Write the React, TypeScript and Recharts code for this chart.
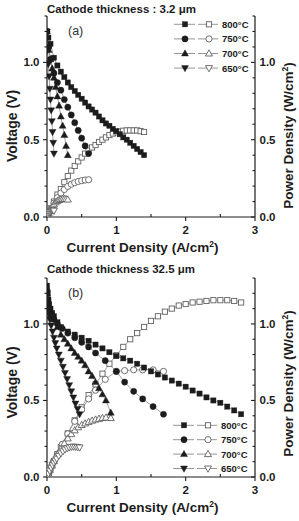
import React from 'react';
import { ComposedChart, Line, XAxis, YAxis, Legend, Label } from 'recharts';

// ---- shared labels / ticks ----
const TEMPS = ['800°C', '750°C', '700°C', '650°C'];
const X_TICKS = [0, 0.5, 1, 1.5, 2, 2.5, 3];
const Y_TICKS = [0, 0.1, 0.2, 0.3, 0.4, 0.5, 0.6, 0.7, 0.8, 0.9, 1.0, 1.1, 1.2, 1.3];
const TITLE_A = 'Cathode thickness : 3.2 \u03bcm';
const TITLE_B = 'Cathode thickness 32.5 \u03bcm';

// ---- panel (a): current density (A/cm2), voltage (V), power density (W/cm2) ----
const A800_I = [0, 0.02, 0.05, 0.1, 0.15, 0.2, 0.25, 0.3, 0.35, 0.4, 0.45, 0.5, 0.55, 0.6, 0.65, 0.7, 0.75, 0.8, 0.85, 0.9, 0.95, 1.0, 1.05, 1.1, 1.15, 1.2, 1.25, 1.3, 1.35, 1.4];
const A800_V = [1.2, 1.16, 1.12, 1.03, 0.98, 0.94, 0.905, 0.87, 0.84, 0.815, 0.79, 0.765, 0.74, 0.715, 0.695, 0.675, 0.65, 0.625, 0.605, 0.59, 0.57, 0.555, 0.535, 0.515, 0.5, 0.48, 0.46, 0.44, 0.42, 0.4];
const A800_P = [0, 0.023, 0.056, 0.1, 0.145, 0.18, 0.225, 0.265, 0.3, 0.33, 0.36, 0.385, 0.41, 0.43, 0.45, 0.465, 0.485, 0.5, 0.515, 0.53, 0.54, 0.548, 0.553, 0.558, 0.56, 0.56, 0.56, 0.56, 0.555, 0.55];

const A750_I = [0, 0.025, 0.05, 0.1, 0.15, 0.2, 0.25, 0.3, 0.35, 0.4, 0.45, 0.5, 0.55, 0.6];
const A750_V = [1.2, 1.1, 1.02, 0.93, 0.87, 0.82, 0.76, 0.71, 0.66, 0.61, 0.56, 0.51, 0.46, 0.41];
const A750_P = [0, 0.027, 0.05, 0.09, 0.125, 0.155, 0.178, 0.198, 0.212, 0.222, 0.23, 0.235, 0.239, 0.241];

const A700_I = [0, 0.025, 0.05, 0.075, 0.1, 0.125, 0.15, 0.175, 0.2, 0.225, 0.25, 0.275, 0.3];
const A700_V = [1.2, 1.08, 1.02, 0.96, 0.9, 0.84, 0.78, 0.72, 0.65, 0.59, 0.53, 0.46, 0.4];
const A700_P = [0, 0.025, 0.046, 0.066, 0.082, 0.095, 0.104, 0.11, 0.114, 0.116, 0.117, 0.116, 0.113];

const A650_I = [0, 0.01, 0.02, 0.03, 0.04, 0.05, 0.06, 0.07, 0.08, 0.09, 0.1];
const A650_V = [1.2, 1.08, 0.99, 0.91, 0.83, 0.76, 0.69, 0.62, 0.55, 0.48, 0.41];
const A650_P = [0, 0.011, 0.02, 0.027, 0.033, 0.038, 0.041, 0.043, 0.044, 0.043, 0.041];

// ---- panel (b) ----
const B800_I = [0, 0.01, 0.02, 0.03, 0.05, 0.075, 0.1, 0.15, 0.2, 0.3, 0.4, 0.5, 0.6, 0.7, 0.8, 0.9, 1.0, 1.1, 1.2, 1.3, 1.4, 1.5, 1.6, 1.7, 1.8, 1.9, 2.0, 2.1, 2.2, 2.3, 2.4, 2.5, 2.6, 2.7, 2.8];
const B800_V = [1.25, 1.2, 1.16, 1.13, 1.1, 1.07, 1.05, 1.01, 0.98, 0.95, 0.93, 0.91, 0.89, 0.865, 0.84, 0.815, 0.79, 0.775, 0.76, 0.74, 0.715, 0.69, 0.67, 0.65, 0.63, 0.61, 0.59, 0.565, 0.545, 0.52, 0.5, 0.485, 0.46, 0.435, 0.41];
const B800_P = [0, 0.012, 0.023, 0.034, 0.055, 0.08, 0.105, 0.15, 0.195, 0.285, 0.37, 0.455, 0.535, 0.605, 0.675, 0.74, 0.795, 0.85, 0.9, 0.94, 0.98, 1.02, 1.05, 1.08, 1.1, 1.12, 1.13, 1.14, 1.145, 1.15, 1.155, 1.155, 1.155, 1.15, 1.14];

const B750_I = [0, 0.01, 0.02, 0.04, 0.07, 0.1, 0.15, 0.22, 0.3, 0.4, 0.5, 0.6, 0.7, 0.84, 1.0, 1.12, 1.25, 1.38, 1.53, 1.68];
const B750_V = [1.22, 1.16, 1.13, 1.09, 1.06, 1.03, 1.0, 0.97, 0.94, 0.91, 0.88, 0.85, 0.81, 0.76, 0.69, 0.62, 0.56, 0.51, 0.46, 0.41];
const B750_P = [0, 0.012, 0.023, 0.044, 0.074, 0.103, 0.15, 0.213, 0.282, 0.364, 0.44, 0.51, 0.567, 0.638, 0.69, 0.695, 0.7, 0.7, 0.7, 0.69];

const B700_I = [0, 0.01, 0.02, 0.04, 0.07, 0.1, 0.15, 0.2, 0.25, 0.3, 0.35, 0.4, 0.45, 0.5, 0.55, 0.6, 0.65, 0.7, 0.75, 0.8, 0.85, 0.92];
const B700_V = [1.2, 1.15, 1.12, 1.09, 1.06, 1.03, 0.98, 0.93, 0.9, 0.87, 0.84, 0.81, 0.785, 0.76, 0.73, 0.69, 0.66, 0.62, 0.58, 0.54, 0.5, 0.42];
const B700_P = [0, 0.012, 0.022, 0.044, 0.074, 0.103, 0.147, 0.183, 0.22, 0.252, 0.28, 0.305, 0.325, 0.34, 0.35, 0.36, 0.368, 0.375, 0.38, 0.385, 0.388, 0.385];

const B650_I = [0, 0.01, 0.02, 0.04, 0.06, 0.08, 0.1, 0.12, 0.14, 0.17, 0.2, 0.23, 0.26, 0.29, 0.32, 0.35, 0.38, 0.41, 0.44, 0.47];
const B650_V = [1.15, 1.1, 1.07, 1.03, 0.99, 0.95, 0.91, 0.875, 0.84, 0.8, 0.76, 0.72, 0.68, 0.64, 0.6, 0.56, 0.52, 0.48, 0.445, 0.41];
const B650_P = [0, 0.011, 0.021, 0.041, 0.06, 0.077, 0.093, 0.107, 0.12, 0.138, 0.155, 0.168, 0.18, 0.188, 0.193, 0.197, 0.198, 0.197, 0.195, 0.193];

type Shape = 'square' | 'circle' | 'up' | 'down';
type Series = { temp: string; shape: Shape; i: number[]; v: number[]; p: number[] };

const SERIES_A: Series[] = [
  { temp: TEMPS[0], shape: 'square', i: A800_I, v: A800_V, p: A800_P },
  { temp: TEMPS[1], shape: 'circle', i: A750_I, v: A750_V, p: A750_P },
  { temp: TEMPS[2], shape: 'up', i: A700_I, v: A700_V, p: A700_P },
  { temp: TEMPS[3], shape: 'down', i: A650_I, v: A650_V, p: A650_P },
];
const SERIES_B: Series[] = [
  { temp: TEMPS[0], shape: 'square', i: B800_I, v: B800_V, p: B800_P },
  { temp: TEMPS[1], shape: 'circle', i: B750_I, v: B750_V, p: B750_P },
  { temp: TEMPS[2], shape: 'up', i: B700_I, v: B700_V, p: B700_P },
  { temp: TEMPS[3], shape: 'down', i: B650_I, v: B650_V, p: B650_P },
];

const FONT = '"Liberation Sans", Arial, sans-serif';
const INK = '#1c1c1c';
const OPEN_STROKE = '#606060';
const LINK = '#8a8a8a';

const pts = (xs: number[], ys: number[]) => xs.map((i, k) => ({ i, y: ys[k] }));
const onStep = (v: number, step: number) => Math.abs(v / step - Math.round(v / step)) < 1e-6;

function Marker({ shape, filled, cx, cy }: { shape: Shape; filled: boolean; cx: number; cy: number }) {
  const common = {
    fill: filled ? INK : '#fff',
    stroke: filled ? INK : OPEN_STROKE,
    strokeWidth: filled ? 0.4 : 0.9,
  };
  if (shape === 'square') return <rect x={cx - 2.6} y={cy - 2.6} width={5.2} height={5.2} {...common} />;
  if (shape === 'circle') return <circle cx={cx} cy={cy} r={3.1} {...common} />;
  if (shape === 'up')
    return <polygon points={`${cx},${cy - 3.7} ${cx - 3.5},${cy + 2.5} ${cx + 3.5},${cy + 2.5}`} {...common} />;
  return <polygon points={`${cx},${cy + 3.7} ${cx - 3.5},${cy - 2.5} ${cx + 3.5},${cy - 2.5}`} {...common} />;
}

const tickText = { fontFamily: FONT, fontWeight: 700, fontSize: 11.5, fill: INK } as const;

function BottomTick(props: any) {
  const { x, y, payload } = props;
  const v = payload.value as number;
  const major = onStep(v, 1);
  return (
    <g>
      {major ? (
        <line x1={x} y1={y} x2={x} y2={y + 4} stroke={INK} strokeWidth={1.1} />
      ) : (
        <line x1={x} y1={y} x2={x} y2={y - 3} stroke={INK} strokeWidth={1.1} />
      )}
      {major && (
        <text x={x} y={y + 16.5} textAnchor="middle" {...tickText}>
          {String(v)}
        </text>
      )}
    </g>
  );
}

function TopTick(props: any) {
  const { x, y, payload } = props;
  const major = onStep(payload.value, 1);
  return <line x1={x} y1={y} x2={x} y2={y + (major ? 4 : 3)} stroke={INK} strokeWidth={1.1} />;
}

function LeftTick(props: any) {
  const { x, y, payload } = props;
  const v = payload.value as number;
  const major = onStep(v, 0.5);
  return (
    <g>
      <line x1={x - (major ? 4 : 2.5)} y1={y} x2={x} y2={y} stroke={INK} strokeWidth={1.1} />
      {major && (
        <text x={x - 7.5} y={y + 4} textAnchor="end" {...tickText}>
          {v.toFixed(1)}
        </text>
      )}
    </g>
  );
}

function RightTick(props: any) {
  const { x, y, payload } = props;
  const v = payload.value as number;
  const major = onStep(v, 0.5);
  return (
    <g>
      <line x1={x - (major ? 4 : 2.5)} y1={y} x2={x} y2={y} stroke={INK} strokeWidth={1.1} />
      {major && (
        <text x={x + 4.5} y={y + 4} textAnchor="start" {...tickText}>
          {v.toFixed(1)}
        </text>
      )}
    </g>
  );
}

function LegendBox({ rowGap }: { rowGap: number }) {
  return (
    <svg width={92} height={64} style={{ display: 'block', overflow: 'visible' }}>
      {SERIES_A.map((s, k) => {
        const cy = 7.3 + k * rowGap;
        return (
          <g key={s.temp}>
            <line x1={4} y1={cy} x2={25} y2={cy} stroke={LINK} strokeWidth={0.9} />
            <Marker shape={s.shape} filled cx={15} cy={cy} />
            <line x1={28} y1={cy} x2={48} y2={cy} stroke={LINK} strokeWidth={0.9} />
            <Marker shape={s.shape} filled={false} cx={39} cy={cy} />
            <text x={52} y={cy + 3.4} fontFamily={FONT} fontWeight={700} fontSize={9.5} fill={INK}>
              {s.temp}
            </text>
          </g>
        );
      })}
    </svg>
  );
}

type PanelProps = {
  series: Series[];
  title: string;
  titleWidth: number;
  tag: string;
  top: number;
  plotTop: number;
  titleBase: number;
  legendLeft: number;
  legendTop: number;
  legendGap: number;
  vShift: number;
  pShift: number;
};

function Panel({ series, title, titleWidth, tag, top, plotTop, titleBase, legendLeft, legendTop, legendGap, vShift, pShift }: PanelProps) {
  const W = 299;
  const H = 260;
  return (
    <div style={{ position: 'absolute', left: 0, top, width: W, height: H }}>
      <ComposedChart width={W} height={H} margin={{ top: plotTop, right: 0, bottom: 0, left: 0 }}>
        <XAxis
          xAxisId="x"
          dataKey="i"
          type="number"
          domain={[0, 3]}
          ticks={X_TICKS}
          interval={0}
          height={43}
          allowDataOverflow
          tickSize={0}
          tickMargin={0}
          tickLine={false}
          axisLine={{ stroke: INK, strokeWidth: 1.2 }}
          tick={<BottomTick />}
        >
          <Label
            content={(p: any) => {
              const vb = p.viewBox;
              return (
                <text x={vb.x + 95.5} y={vb.y + 34.5} textAnchor="middle" fontFamily={FONT} fontWeight={700} fontSize={13.5} fill={INK}>
                  <tspan>Current Density (A/cm</tspan>
                  <tspan dy={-5} fontSize={8.5}>2</tspan>
                  <tspan dy={5}>)</tspan>
                </text>
              );
            }}
          />
        </XAxis>
        <XAxis
          xAxisId="top"
          orientation="top"
          dataKey="i"
          type="number"
          domain={[0, 3]}
          ticks={X_TICKS}
          interval={0}
          height={0}
          allowDataOverflow
          tickSize={0}
          tickMargin={0}
          tickLine={false}
          axisLine={{ stroke: INK, strokeWidth: 1.2 }}
          tick={<TopTick />}
        />
        <YAxis
          yAxisId="v"
          orientation="left"
          type="number"
          domain={[0, 1.3]}
          ticks={Y_TICKS}
          interval={0}
          width={47}
          allowDataOverflow
          tickSize={0}
          tickMargin={0}
          tickLine={false}
          axisLine={{ stroke: INK, strokeWidth: 1.2 }}
          tick={<LeftTick />}
        >
          <Label
            content={(p: any) => {
              const vb = p.viewBox;
              const cy = vb.y + vb.height / 2 + vShift;
              return (
                <text
                  x={16.5}
                  y={cy}
                  transform={`rotate(-90 16.5 ${cy})`}
                  textAnchor="middle"
                  fontFamily={FONT}
                  fontWeight={700}
                  fontSize={14}
                  fill={INK}
                >
                  Voltage (V)
                </text>
              );
            }}
          />
        </YAxis>
        <YAxis
          yAxisId="p"
          orientation="right"
          type="number"
          domain={[0, 1.3]}
          ticks={Y_TICKS}
          interval={0}
          width={44}
          allowDataOverflow
          tickSize={0}
          tickMargin={0}
          tickLine={false}
          axisLine={{ stroke: INK, strokeWidth: 1.2 }}
          tick={<RightTick />}
        >
          <Label
            content={(p: any) => {
              const vb = p.viewBox;
              const cy = vb.y + vb.height / 2 + pShift;
              const bx = vb.x + 38;
              return (
                <text
                  x={bx}
                  y={cy}
                  transform={`rotate(-90 ${bx} ${cy})`}
                  textAnchor="middle"
                  fontFamily={FONT}
                  fontWeight={700}
                  fontSize={13.5}
                  fill={INK}
                >
                  <tspan>Power Density (W/cm</tspan>
                  <tspan dy={-5} fontSize={8.5}>2</tspan>
                  <tspan dy={5}>)</tspan>
                </text>
              );
            }}
          />
        </YAxis>

        {series.map((s) => (
          <Line
            key={`p-${s.temp}`}
            data={pts(s.i, s.p)}
            dataKey="y"
            xAxisId="x"
            yAxisId="p"
            type="linear"
            stroke={LINK}
            strokeWidth={0.8}
            isAnimationActive={false}
            activeDot={false}
            legendType="none"
            dot={(d: any) => <Marker key={`po-${s.temp}-${d.index}`} shape={s.shape} filled={false} cx={d.cx} cy={d.cy} />}
          />
        ))}
        {series.map((s) => (
          <Line
            key={`v-${s.temp}`}
            data={pts(s.i, s.v)}
            dataKey="y"
            xAxisId="x"
            yAxisId="v"
            type="linear"
            stroke={LINK}
            strokeWidth={0.8}
            isAnimationActive={false}
            activeDot={false}
            legendType="none"
            dot={(d: any) => <Marker key={`vf-${s.temp}-${d.index}`} shape={s.shape} filled cx={d.cx} cy={d.cy} />}
          />
        ))}
        <Legend
          layout="vertical"
          align="center"
          verticalAlign="middle"
          content={() => <LegendBox rowGap={legendGap} />}
          wrapperStyle={{ position: 'absolute', left: legendLeft, top: legendTop, width: 92, height: 64, margin: 0, padding: 0 }}
        />
      </ComposedChart>
      {/* panel heading and letter */}
      <svg width={W} height={40} style={{ position: 'absolute', left: 0, top: 0, pointerEvents: 'none' }}>
        <text
          x={47}
          y={titleBase}
          textLength={titleWidth}
          lengthAdjust="spacingAndGlyphs"
          fontFamily={FONT}
          fontWeight={700}
          fontSize={11.5}
          fill={INK}
        >
          {title}
        </text>
        <text x={68} y={plotTop + 19} fontFamily={FONT} fontSize={12.5} fill="#333">
          {tag}
        </text>
      </svg>
    </div>
  );
}

export default function App() {
  return (
    <div style={{ position: 'absolute', left: 0, top: 0, width: 299, height: 521, background: '#fff' }}>
      <Panel
        series={SERIES_A}
        title={TITLE_A}
        titleWidth={149}
        tag="(a)"
        top={0}
        plotTop={16}
        titleBase={13.2}
        legendLeft={170}
        legendTop={17}
        legendGap={14.6}
        vShift={9.5}
        pShift={19}
      />
      <Panel
        series={SERIES_B}
        title={TITLE_B}
        titleWidth={148}
        tag="(b)"
        top={260}
        plotTop={18}
        titleBase={13.3}
        legendLeft={169}
        legendTop={157.7}
        legendGap={14.4}
        vShift={5}
        pShift={6}
      />
    </div>
  );
}
